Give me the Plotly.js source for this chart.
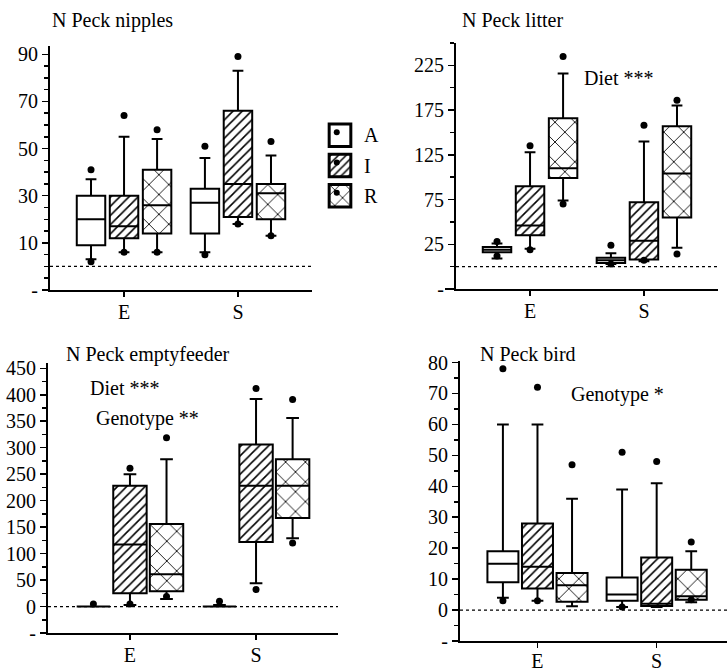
<!DOCTYPE html>
<html><head><meta charset="utf-8">
<script src="https://cdn.plot.ly/plotly-3.0.1.min.js"></script>
<style>html,body{margin:0;padding:0;background:#fff}</style>
</head><body><div id="chart" style="width:727px;height:672px"></div>
<script>
const groups = ['E','S'];
const genotypes = ['A','I','R'];
const patterns = ['', '/', 'x'];

// N Peck nipples  [genotype][group]
const nipQ1  = [[9,14],[12,21],[14,20]];
const nipMed = [[20,27],[17,35],[26,31]];
const nipQ3  = [[30,33],[30,66],[41,35]];
const nipLo  = [[3,6],[6,18],[6,13]];
const nipHi  = [[37,46],[55,83],[54,47]];
const nipOut = [[[41,2],[51,5]],[[64,6],[89,18]],[[58,6],[53,13]]];

// N Peck litter
const litQ1  = [[16,4],[35,8],[99,55]];
const litMed = [[19,7],[46,29],[110,104]];
const litQ3  = [[22,10],[90,72],[166,157]];
const litLo  = [[9,3],[20,6],[74,21]];
const litHi  = [[26,15],[128,140],[216,180]];
const litOut = [[[28,12],[24,3]],[[135,19],[158,7]],[[235,70],[186,14]]];

// N Peck emptyfeeder
const empQ1  = [[0,0],[25,122],[29,167]];
const empMed = [[0,0],[117,228],[61,228]];
const empQ3  = [[0,0],[228,306],[156,278]];
const empLo  = [[0,0],[3,44],[14,129]];
const empHi  = [[0,3],[250,392],[278,356]];
const empOut = [[[5],[10]],[[261,5],[412,32]],[[319,19],[391,120]]];

// N Peck bird
const birQ1  = [[9,3],[7,1.3],[2.7,3.3]];
const birMed = [[15,5],[14,2],[8,4.5]];
const birQ3  = [[19,10.5],[28,17],[12,13]];
const birLo  = [[4,1],[3,1],[1.2,2.5]];
const birHi  = [[60,39],[60,41],[36,19]];
const birOut = [[[78,3],[51,1]],[[72,3],[48]],[[47],[22,3.3]]];

// axis tick labels
const nipTicks = [-10,10,30,50,70,90];
const litTicks = [-25,25,75,125,175,225];
const empTicks = [-50,0,50,100,150,200,250,300,350,400,450];
const birTicks = [-10,0,10,20,30,40,50,60,70,80];
const tickText = v => v < 0 ? '-' : String(v);

const FONT = 'Liberation Serif, Times New Roman, serif';
const offsets = [-0.29, 0, 0.29];
const traces = [];

function addPanel(n, q1, med, q3, lo, hi, out, boxW) {
  const xa = n === 1 ? 'x' : 'x' + n, ya = n === 1 ? 'y' : 'y' + n;
  genotypes.forEach((g, gi) => {
    const xs = groups.map((_, k) => k + offsets[gi]);
    if (patterns[gi]) {
      traces.push({type:'bar', x: xs, base: q1[gi], y: q3[gi].map((v,k)=>v-q1[gi][k]),
        width: boxW, xaxis: xa, yaxis: ya, showlegend:false, hoverinfo:'skip',
        marker:{color:'white', line:{width:0},
          pattern:{shape:patterns[gi], fgcolor:'black', bgcolor:'white',
            size: gi===1?6.5:14, solidity: gi===1?0.24:0.12}}});
    }
    traces.push({type:'box', orientation:'v', x: xs, q1: q1[gi], median: med[gi], q3: q3[gi],
      lowerfence: lo[gi], upperfence: hi[gi], width: boxW, whiskerwidth: 0.38,
      fillcolor: patterns[gi] ? 'rgba(0,0,0,0)' : 'white',
      line:{color:'black', width:2}, boxpoints:false, xaxis: xa, yaxis: ya,
      showlegend:false, hoverinfo:'skip'});
    const ox = [], oy = [];
    out[gi].forEach((arr, k) => arr.forEach(v => { ox.push(k + offsets[gi]); oy.push(v); }));
    traces.push({type:'scatter', mode:'markers', x: ox, y: oy, xaxis: xa, yaxis: ya,
      marker:{color:'black', size:7}, showlegend:false, hoverinfo:'skip', cliponaxis:false});
  });
}
addPanel(1, nipQ1, nipMed, nipQ3, nipLo, nipHi, nipOut, 0.25);
addPanel(2, litQ1, litMed, litQ3, litLo, litHi, litOut, 0.25);
addPanel(3, empQ1, empMed, empQ3, empLo, empHi, empOut, 0.265);
addPanel(4, birQ1, birMed, birQ3, birLo, birHi, birOut, 0.26);

// legend drawn as a small bar plot
traces.push({type:'bar', orientation:'h', y: genotypes.map((_,i)=>i), x: genotypes.map(()=>1), base: 0,
  width: 0.74, xaxis:'x5', yaxis:'y5', showlegend:false, hoverinfo:'skip',
  marker:{color:'white', line:{color:'black', width:3},
    pattern:{shape: patterns, fgcolor:'black', bgcolor:'white', size:[8,5.5,11], solidity:[0.2,0.28,0.14]}}});
traces.push({type:'scatter', mode:'markers', x: genotypes.map(()=>0.35), y: genotypes.map((_,i)=>i-0.1),
  xaxis:'x5', yaxis:'y5', marker:{color:'black', size:6}, showlegend:false, hoverinfo:'skip'});

const W = 727, H = 672;
const px = v => v / W, py = v => 1 - v / H;

function xAxis(dom, anchor, range, standoff) {
  return {domain: dom, anchor: anchor, range: range, showline:true, linewidth:2, linecolor:'black',
    ticks:'outside', ticklen:5, tickwidth:1.5, tickcolor:'black', ticklabelstandoff: standoff,
    tickvals: groups.map((_,k)=>k), ticktext: groups, showgrid:false, zeroline:false,
    tickfont:{family:FONT, size:20, color:'black'}, fixedrange:true};
}
function yAxis(dom, anchor, range, tv, minorD) {
  return {domain: dom, anchor: anchor, range: range, showline:true, linewidth:2, linecolor:'black',
    ticks:'outside', ticklen:6, tickwidth:1.5, tickcolor:'black',
    tickvals: tv, ticktext: tv.map(tickText), showgrid:false, zeroline:false,
    minor:{ticks:'outside', ticklen:4, tickwidth:1.5, tickcolor:'black', dtick:minorD, tick0:0, showgrid:false},
    tickfont:{family:FONT, size:20, color:'black'}, fixedrange:true};
}

const dotted = ['x','x2','x3','x4'].map((xa,i) => ({type:'line', xref: xa + ' domain', x0:0, x1:1,
    yref: i===0 ? 'y' : 'y'+(i+1), y0:0, y1:0, layer:'below',
    line:{color:'black', width:1.3, dash:'dot'}}));
// short extensions of the x axis lines to the left of the y axis
const ext = [['x2','y2',-0.042],['x3','y3',-0.021],['x4','y4',-0.026]].map(([xa,ya,e]) => ({
    type:'line', xref: xa + ' domain', yref: ya + ' domain', x0:e, x1:0, y0:0, y1:0,
    line:{color:'black', width:2}}));

const layout = {
  width: W, height: H, autosize:false, margin:{l:0,r:0,t:0,b:0},
  paper_bgcolor:'white', plot_bgcolor:'rgba(0,0,0,0)',
  barmode:'overlay', boxmode:'overlay', showlegend:false,
  xaxis:  xAxis([px(50), px(312)], 'y', [-0.65, 1.65], -2),
  yaxis:  yAxis([py(290), py(46)], 'x', [-10, 93.5], nipTicks, 5),
  xaxis2: xAxis([px(456), px(718)], 'y2', [-0.65, 1.65], -2),
  yaxis2: yAxis([py(289), py(43)], 'x2', [-25, 250], litTicks, 25),
  xaxis3: xAxis([px(48), px(338)], 'y3', [-0.65, 1.65], -2),
  yaxis3: yAxis([py(633), py(363)], 'x3', [-50, 460], empTicks, 25),
  xaxis4: xAxis([px(460), 1], 'y4', [-0.65, 1.59], -4),
  yaxis4: yAxis([py(641), py(361)], 'x4', [-10, 80.5], birTicks, 5),
  xaxis5: {domain:[px(327), px(353)], anchor:'y5', range:[-0.1, 1.1], visible:false, fixedrange:true},
  yaxis5: {domain:[py(211), py(120)], anchor:'x5', range:[2.5, -0.5], side:'right',
    tickvals: genotypes.map((_,i)=>i), ticktext: genotypes, showline:false, ticks:'',
    showgrid:false, zeroline:false, ticklabelstandoff: 10,
    tickfont:{family:FONT, size:20, color:'black'}, fixedrange:true},
  shapes: dotted.concat(ext),
  annotations: [
    {text:'N Peck nipples', x:px(50), y:py(20)},
    {text:'N Peck litter', x:px(460), y:py(20)},
    {text:'N Peck emptyfeeder', x:px(64), y:py(354)},
    {text:'N Peck bird', x:px(478), y:py(354)},
    {text:'Diet ***', x:px(582), y:py(78)},
    {text:'Diet ***', x:px(88), y:py(388)},
    {text:'Genotype **', x:px(94), y:py(418)},
    {text:'Genotype *', x:px(569), y:py(394)}
  ].map(a => Object.assign({xref:'paper', yref:'paper', xanchor:'left', yanchor:'middle',
    showarrow:false, font:{family:FONT, size:20, color:'black'}}, a))
};

Plotly.newPlot('chart', traces, layout, {staticPlot:true, displayModeBar:false});
</script></body></html>
